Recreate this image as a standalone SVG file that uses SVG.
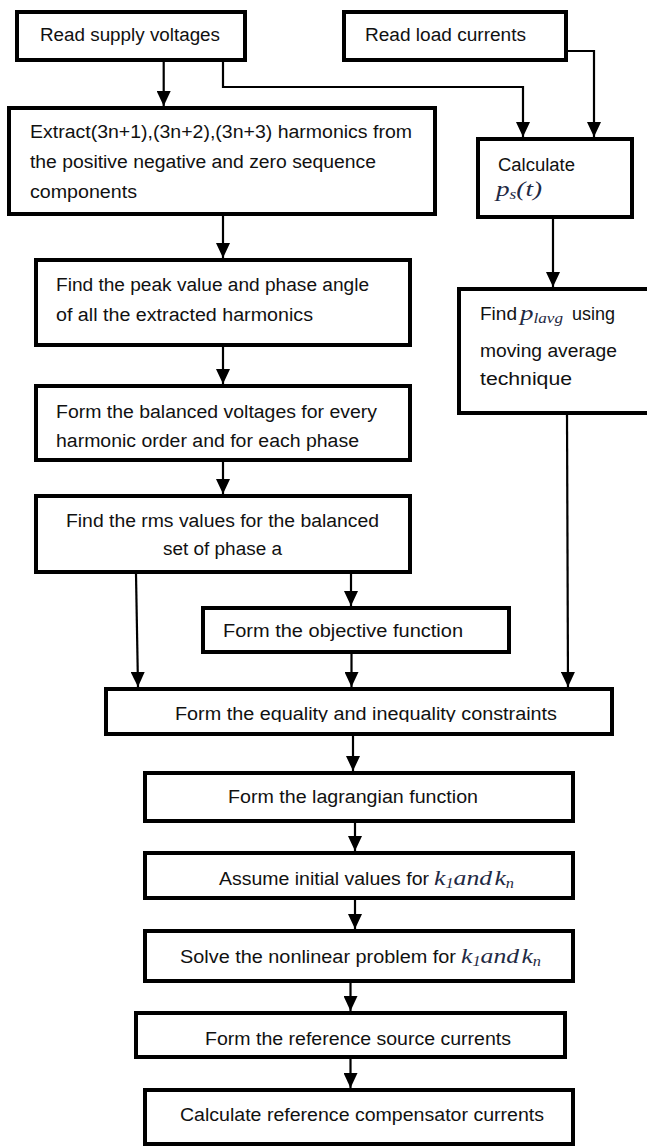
<svg xmlns="http://www.w3.org/2000/svg" width="647" height="1146" viewBox="0 0 647 1146">
<style>
.box{fill:#fff;stroke:#000;stroke-width:4}
.t{font-family:"Liberation Sans",Arial,sans-serif;font-size:18px;fill:#111}
.m{font-family:"Liberation Serif","Times New Roman",serif;font-style:italic;font-size:22px;fill:#1f2a44}
.sub{font-size:14px}
.c{fill:none;stroke:#000;stroke-width:2.2}
</style>
<defs>
<marker id="ah" viewBox="0 0 15 14" refX="15" refY="7" markerWidth="15" markerHeight="14" markerUnits="userSpaceOnUse" orient="auto">
<path d="M0,0 L15,7 L0,14 z" fill="#000"/>
</marker>
<clipPath id="clipc"><rect x="100" y="690" width="520" height="32"/></clipPath>
</defs>
<rect width="647" height="1146" fill="#fff"/>

<g id="connectors">
<path class="c" d="M163.7,62 V106" marker-end="url(#ah)"/>
<path class="c" d="M223,62 V87 H523 V137" marker-end="url(#ah)"/>
<path class="c" d="M568,51 H594 V137" marker-end="url(#ah)"/>
<path class="c" d="M223,216 V258" marker-end="url(#ah)"/>
<path class="c" d="M553,219 V287" marker-end="url(#ah)"/>
<path class="c" d="M223,347 V384" marker-end="url(#ah)"/>
<path class="c" d="M223,462 V494" marker-end="url(#ah)"/>
<path class="c" d="M136,574 L138,687" marker-end="url(#ah)"/>
<path class="c" d="M351,574 V606" marker-end="url(#ah)"/>
<path class="c" d="M351.5,654 V687" marker-end="url(#ah)"/>
<path class="c" d="M567,415 L568,687" marker-end="url(#ah)"/>
<path class="c" d="M353,736 V771" marker-end="url(#ah)"/>
<path class="c" d="M355,823 V851" marker-end="url(#ah)"/>
<path class="c" d="M355,900 V929" marker-end="url(#ah)"/>
<path class="c" d="M350.5,983 V1011" marker-end="url(#ah)"/>
<path class="c" d="M350.5,1059 V1088" marker-end="url(#ah)"/>
</g>

<g id="supply">
<rect class="box" x="17" y="12" width="228" height="48"/>
<text class="t" x="40" y="41" textLength="180" lengthAdjust="spacingAndGlyphs">Read supply voltages</text>
</g>
<g id="load">
<rect class="box" x="344" y="12" width="222" height="48"/>
<text class="t" x="365" y="41" textLength="161" lengthAdjust="spacingAndGlyphs">Read load currents</text>
</g>
<g id="extract">
<rect class="box" x="9" y="108" width="426" height="106"/>
<text class="t" x="30" y="138" textLength="382" lengthAdjust="spacingAndGlyphs">Extract(3n+1),(3n+2),(3n+3) harmonics from</text>
<text class="t" x="30" y="168" textLength="346" lengthAdjust="spacingAndGlyphs">the positive negative and zero sequence</text>
<text class="t" x="30" y="198" textLength="107" lengthAdjust="spacingAndGlyphs">components</text>
</g>
<g id="calc">
<rect class="box" x="478" y="139" width="154" height="78"/>
<text class="t" x="498" y="171" textLength="77" lengthAdjust="spacingAndGlyphs">Calculate</text>
<text class="m" x="496" y="196" textLength="46" lengthAdjust="spacingAndGlyphs">p<tspan class="sub" dy="3">s</tspan><tspan dy="-3">(t)</tspan></text>
</g>
<g id="plavg">
<rect class="box" x="459" y="289" width="200" height="124"/>
<text class="t" x="480" y="320" textLength="37" lengthAdjust="spacingAndGlyphs">Find</text>
<text class="m" x="520" y="320" textLength="43" lengthAdjust="spacingAndGlyphs">p<tspan class="sub" dy="3">lavg</tspan></text>
<text class="t" x="572" y="320" textLength="43" lengthAdjust="spacingAndGlyphs">using</text>
<text class="t" x="480" y="357" textLength="137" lengthAdjust="spacingAndGlyphs">moving average</text>
<text class="t" x="480" y="385" textLength="92" lengthAdjust="spacingAndGlyphs">technique</text>
</g>
<g id="peak">
<rect class="box" x="36" y="260" width="374" height="85"/>
<text class="t" x="56" y="291" textLength="313" lengthAdjust="spacingAndGlyphs">Find the peak value and phase angle</text>
<text class="t" x="56" y="321" textLength="257" lengthAdjust="spacingAndGlyphs">of all the extracted harmonics</text>
</g>
<g id="balanced">
<rect class="box" x="36" y="386" width="374" height="74"/>
<text class="t" x="56" y="418" textLength="321" lengthAdjust="spacingAndGlyphs">Form the balanced voltages for every</text>
<text class="t" x="56" y="447" textLength="303" lengthAdjust="spacingAndGlyphs">harmonic order and for each phase</text>
</g>
<g id="rms">
<rect class="box" x="36" y="496" width="374" height="76"/>
<text class="t" x="66" y="527" textLength="313" lengthAdjust="spacingAndGlyphs">Find the rms values for the balanced</text>
<text class="t" x="163" y="555" textLength="119" lengthAdjust="spacingAndGlyphs">set of phase a</text>
</g>
<g id="objective">
<rect class="box" x="203" y="608" width="306" height="44"/>
<text class="t" x="223" y="637" textLength="240" lengthAdjust="spacingAndGlyphs">Form the objective function</text>
</g>
<g id="constraints">
<rect class="box" x="106" y="689" width="506" height="45"/>
<text class="t" x="175" y="720" textLength="382" lengthAdjust="spacingAndGlyphs" clip-path="url(#clipc)">Form the equality and inequality constraints</text>
</g>
<g id="lagrangian">
<rect class="box" x="145" y="773" width="428" height="48"/>
<text class="t" x="228" y="803" textLength="250" lengthAdjust="spacingAndGlyphs">Form the lagrangian function</text>
</g>
<g id="assume">
<rect class="box" x="145" y="853" width="428" height="45"/>
<text class="t" x="219" y="885" textLength="210" lengthAdjust="spacingAndGlyphs">Assume initial values for</text>
<text class="m" x="434" y="885" textLength="80" lengthAdjust="spacingAndGlyphs">k<tspan class="sub" dy="3">1</tspan><tspan dy="-3">and</tspan><tspan dx="2">k</tspan><tspan class="sub" dy="3">n</tspan></text>
</g>
<g id="solve">
<rect class="box" x="145" y="931" width="428" height="50"/>
<text class="t" x="180" y="963" textLength="276" lengthAdjust="spacingAndGlyphs">Solve the nonlinear problem for</text>
<text class="m" x="461" y="963" textLength="80" lengthAdjust="spacingAndGlyphs">k<tspan class="sub" dy="3">1</tspan><tspan dy="-3">and</tspan><tspan dx="2">k</tspan><tspan class="sub" dy="3">n</tspan></text>
</g>
<g id="source">
<rect class="box" x="136" y="1013" width="429" height="44"/>
<text class="t" x="205" y="1045" textLength="306" lengthAdjust="spacingAndGlyphs">Form the reference source currents</text>
</g>
<g id="compensator">
<rect class="box" x="145" y="1090" width="428" height="54"/>
<text class="t" x="180" y="1121" textLength="364" lengthAdjust="spacingAndGlyphs">Calculate reference compensator currents</text>
</g>
</svg>
